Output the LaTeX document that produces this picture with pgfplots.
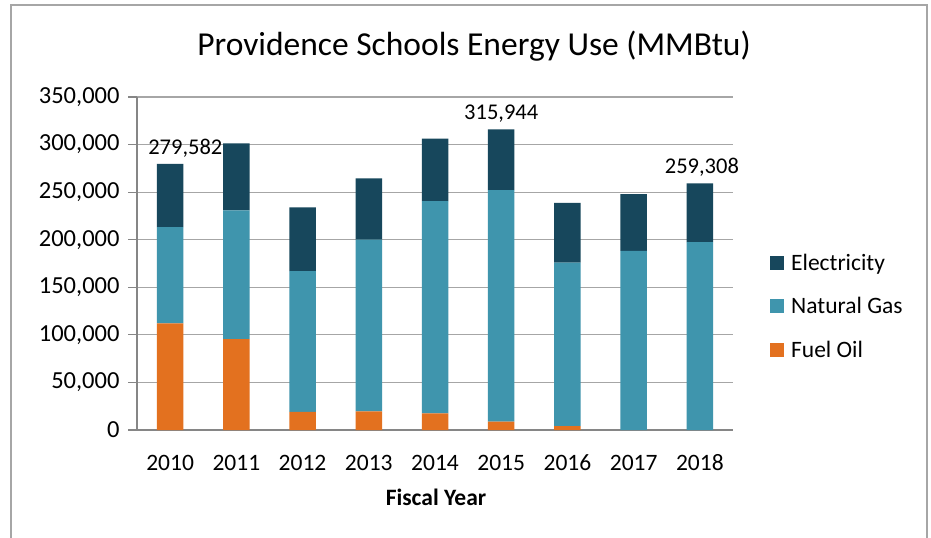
\documentclass[border=0pt]{standalone}
\usepackage{pgfplots}
\pgfplotsset{compat=1.18}
\usepackage{fontspec}
\setmainfont{Carlito}
\definecolor{elec}{HTML}{17475C}
\definecolor{gas}{HTML}{3F95AD}
\definecolor{oil}{HTML}{E3711F}
\definecolor{gridc}{HTML}{A6A6A6}
\definecolor{axc}{HTML}{868686}
\begin{document}
\begin{tikzpicture}
\useasboundingbox (0,0) rectangle (931bp,538bp);
\fill[white] (0,0) rectangle (931bp,538bp);
\draw[gridc, line width=1.5bp] (11bp,-10bp) rectangle (927bp,533bp);
\begin{axis}[
  at={(137bp,108bp)}, anchor=south west,
  scale only axis, width=596bp, height=333bp,
  xmin=-0.5, xmax=8.5, ymin=0, ymax=350000,
  clip=false,
  ybar stacked, bar width=26.5bp,
  axis lines=left, axis line style={-, axc, line width=1.2bp},
  ytick={0,50000,...,350000},
  ymajorgrids, grid style={gridc, line width=1.2bp},
  scaled y ticks=false,
  yticklabel style={/pgf/number format/fixed, /pgf/number format/1000 sep={,}, /pgf/number format/assume math mode=true},
  yticklabel style={font=\fontsize{24.5bp}{28bp}\selectfont, xshift=-5bp},
  xtick={0,...,8},
  xticklabels={2010,2011,2012,2013,2014,2015,2016,2017,2018},
  xticklabel style={font=\fontsize{23.5bp}{27bp}\selectfont, anchor=base, yshift=-31bp},
  minor xtick={-0.5,0.5,...,8.5},
  xtick style={draw=none},
  minor x tick style={axc, line width=1.2bp},
  ytick style={axc, line width=1.2bp},
  tick align=outside,
  major tick length=9bp, minor tick length=8bp,
  legend style={at={(1.057,0.542)}, anchor=north west, draw=none, fill=none,
    font=\fontsize{23.5bp}{28bp}\selectfont, row sep=22bp,
    /tikz/every odd column/.style={column sep=5bp}},
  legend cell align=left,
  reverse legend,
  legend image code/.code={\fill[#1] (0bp,-7bp) rectangle (14bp,7bp);},
]
\addplot[fill=oil, draw=none] coordinates {(0,112000) (1,95500) (2,19000) (3,19600) (4,17500) (5,8750) (6,4200) (7,0) (8,0)};
\addlegendentry{Fuel Oil}
\addplot[fill=gas, draw=none] coordinates {(0,101150) (1,135450) (2,148050) (3,180600) (4,222950) (5,243250) (6,171850) (7,188300) (8,197400)};
\addlegendentry{Natural Gas}
\addplot[fill=elec, draw=none] coordinates {(0,66432) (1,70350) (2,66850) (3,64400) (4,65800) (5,63944) (6,62650) (7,59500) (8,61908)};
\addlegendentry{Electricity}
\node[anchor=base, font=\fontsize{22.5bp}{26bp}\selectfont] at (axis cs:0.23,290000) {279,582};
\node[anchor=base, font=\fontsize{22.5bp}{26bp}\selectfont] at (axis cs:5,326500) {315,944};
\node[anchor=base, font=\fontsize{22.5bp}{26bp}\selectfont] at (axis cs:8.03,269500) {259,308};
\end{axis}
\node[anchor=base, font=\fontsize{33.5bp}{38bp}\selectfont] at (474bp,482bp) {Providence Schools Energy Use (MMBtu)};
\node[anchor=base, font=\bfseries\fontsize{23.5bp}{27bp}\selectfont] at (436bp,33bp) {Fiscal Year};
\end{tikzpicture}
\end{document}
